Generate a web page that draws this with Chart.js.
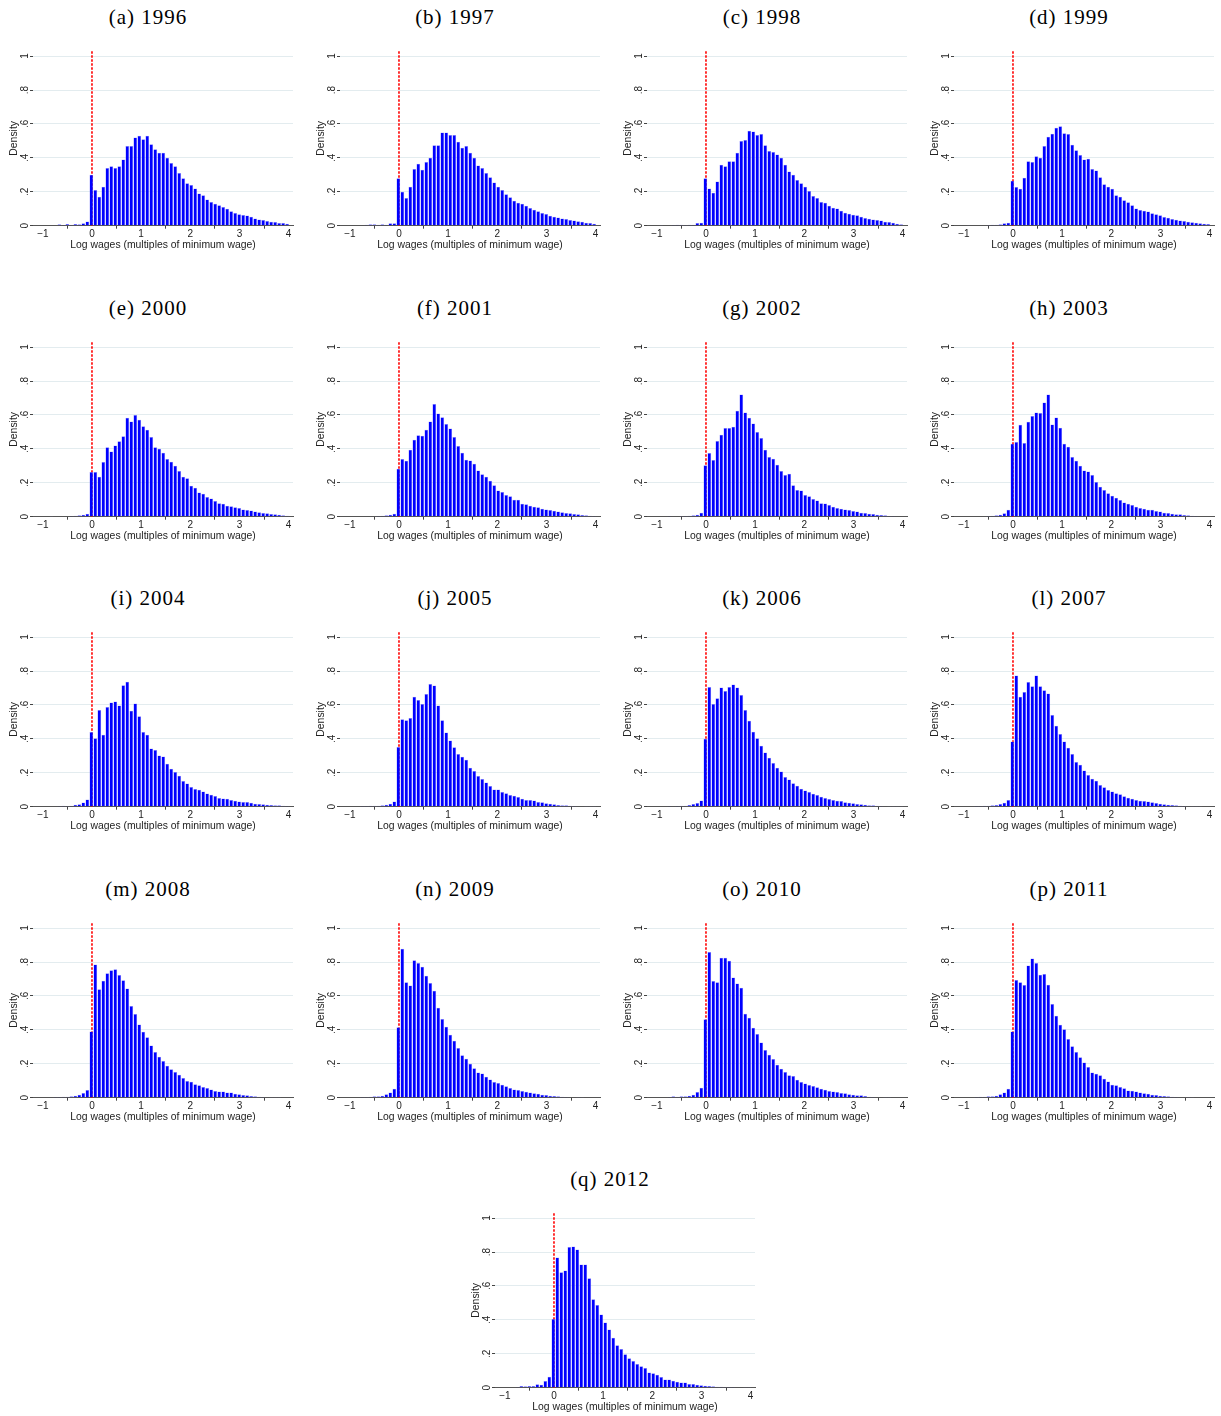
<!DOCTYPE html>
<html><head><meta charset="utf-8">
<script src="https://cdn.jsdelivr.net/npm/chart.js@4"></script>
<style>
html,body{margin:0;padding:0;background:#fff;width:1221px;height:1416px;overflow:hidden;}
.panel{position:absolute;width:305px;height:256px;}
.ttl{position:absolute;top:3px;left:0;width:296px;text-align:center;font-family:"Liberation Serif",serif;font-size:21px;letter-spacing:1px;color:#000;line-height:28px;white-space:nowrap;}
canvas{position:absolute;left:0;top:40px;}
</style></head><body>
<script>
// ---------- data ----------
const years = ["1996","1997","1998","1999","2000","2001","2002","2003","2004","2005","2006","2007","2008","2009","2010","2011","2012"];
const letters = ["a","b","c","d","e","f","g","h","i","j","k","l","m","n","o","p","q"];
const xTicks = [-1,0,1,2,3,4];
const xTickLabels = ["\u22121","0","1","2","3","4"];
const yTicks = [0,0.2,0.4,0.6,0.8,1];
const yTickLabels = ["0",".2",".4",".6",".8","1"];
const xTitle = "Log wages (multiples of minimum wage)";
const yTitle = "Density";
// histogram bins (log wage relative to minimum wage); 12 bins below the minimum-wage bin, 50 from it upward
const binWidth = 0.0813;
const binCenters = Array.from({length:62},(_,i)=> -0.0134 + (i-12)*binWidth);

const y1996 = [0,0,0.002,0.003,0.008,0.004,0.01,0.006,0.01,0.008,0.014,0.025,
 0.30,0.21,0.17,0.23,0.34,0.35,0.34,0.35,0.39,0.47,0.47,0.52,0.53,0.51,0.53,0.48,0.45,0.43,0.43,0.40,0.37,0.35,0.31,0.28,0.25,0.24,0.22,0.19,0.18,0.155,0.14,0.13,0.12,0.11,0.10,0.085,0.075,0.067,0.063,0.06,0.053,0.043,0.037,0.033,0.028,0.024,0.022,0.016,0.016,0.012];
const y1997 = [0,0,0.002,0.002,0.006,0.008,0.008,0.005,0.008,0.006,0.015,0.015,
 0.28,0.20,0.163,0.23,0.335,0.365,0.33,0.375,0.40,0.475,0.475,0.55,0.55,0.535,0.535,0.495,0.46,0.47,0.43,0.40,0.355,0.34,0.31,0.285,0.255,0.23,0.21,0.185,0.167,0.147,0.135,0.13,0.118,0.104,0.094,0.085,0.075,0.069,0.059,0.053,0.049,0.043,0.039,0.033,0.03,0.026,0.024,0.018,0.016,0.012];
const y1998 = [0,0.001,0.002,0.002,0.004,0.006,0.006,0.004,0.005,0.006,0.016,0.018,
 0.28,0.22,0.195,0.26,0.36,0.35,0.38,0.38,0.43,0.50,0.505,0.56,0.555,0.535,0.54,0.475,0.44,0.435,0.42,0.40,0.36,0.32,0.30,0.27,0.25,0.23,0.205,0.175,0.163,0.14,0.135,0.118,0.106,0.102,0.088,0.077,0.071,0.065,0.061,0.053,0.045,0.041,0.037,0.033,0.03,0.024,0.022,0.018,0.012,0.008];
const y1999 = [0,0.001,0.002,0.002,0.003,0.003,0.004,0.005,0.006,0.008,0.014,0.018,
 0.265,0.228,0.218,0.283,0.38,0.375,0.41,0.40,0.47,0.525,0.542,0.578,0.587,0.545,0.54,0.478,0.445,0.417,0.39,0.395,0.335,0.326,0.285,0.244,0.23,0.218,0.18,0.171,0.15,0.138,0.12,0.102,0.092,0.088,0.083,0.073,0.067,0.061,0.051,0.047,0.039,0.035,0.03,0.028,0.024,0.02,0.018,0.014,0.012,0.01];
const y2000 = [0,0,0.001,0.002,0.002,0.003,0.003,0.004,0.006,0.008,0.012,0.018,
 0.263,0.263,0.236,0.322,0.41,0.385,0.42,0.445,0.475,0.583,0.562,0.60,0.572,0.534,0.513,0.47,0.41,0.40,0.377,0.34,0.324,0.30,0.27,0.236,0.226,0.183,0.171,0.143,0.135,0.116,0.108,0.092,0.08,0.077,0.065,0.061,0.055,0.051,0.043,0.039,0.037,0.031,0.026,0.022,0.02,0.016,0.014,0.012,0.008,0.006];
const y2001 = [0,0,0.002,0.003,0.002,0.002,0.003,0.004,0.006,0.008,0.012,0.018,
 0.283,0.34,0.33,0.395,0.454,0.48,0.477,0.513,0.562,0.664,0.609,0.587,0.546,0.52,0.47,0.417,0.377,0.336,0.332,0.312,0.273,0.25,0.236,0.212,0.185,0.155,0.145,0.128,0.12,0.10,0.10,0.077,0.073,0.065,0.059,0.055,0.047,0.043,0.039,0.035,0.031,0.026,0.022,0.02,0.016,0.014,0.01,0.008,0.006,0.004];
const y2002 = [0,0,0.002,0.004,0.002,0.003,0.004,0.004,0.006,0.008,0.012,0.024,
 0.303,0.375,0.334,0.446,0.483,0.523,0.523,0.53,0.625,0.72,0.615,0.583,0.55,0.50,0.464,0.395,0.352,0.342,0.306,0.27,0.246,0.253,0.185,0.157,0.155,0.128,0.12,0.104,0.096,0.08,0.078,0.069,0.059,0.051,0.047,0.043,0.039,0.033,0.03,0.024,0.022,0.018,0.016,0.012,0.01,0.008,0.004,0.004,0.002,0.002];
const y2003 = [0,0,0.002,0.002,0.002,0.003,0.004,0.005,0.008,0.012,0.02,0.041,
 0.43,0.44,0.542,0.435,0.56,0.593,0.615,0.611,0.674,0.72,0.544,0.585,0.525,0.43,0.413,0.352,0.33,0.30,0.273,0.267,0.246,0.204,0.177,0.157,0.138,0.124,0.112,0.098,0.084,0.077,0.069,0.059,0.051,0.047,0.041,0.041,0.033,0.03,0.024,0.022,0.018,0.014,0.014,0.01,0.008,0.006,0.004,0.002,0.002,0.002];
const y2004 = [0,0,0.002,0.003,0.004,0.006,0.004,0.006,0.012,0.014,0.025,0.043,
 0.44,0.404,0.57,0.424,0.588,0.614,0.62,0.596,0.716,0.737,0.565,0.608,0.533,0.44,0.424,0.343,0.335,0.302,0.296,0.253,0.224,0.204,0.182,0.151,0.137,0.116,0.104,0.10,0.09,0.078,0.071,0.063,0.051,0.049,0.047,0.039,0.035,0.031,0.027,0.027,0.024,0.018,0.016,0.014,0.012,0.01,0.008,0.008,0.006,0.004];
const y2005 = [0,0,0.002,0.004,0.004,0.006,0.005,0.006,0.008,0.012,0.018,0.03,
 0.352,0.515,0.51,0.523,0.648,0.629,0.605,0.664,0.723,0.715,0.597,0.509,0.438,0.391,0.35,0.31,0.295,0.277,0.23,0.21,0.181,0.163,0.143,0.122,0.102,0.102,0.086,0.08,0.069,0.065,0.057,0.047,0.039,0.039,0.037,0.028,0.026,0.02,0.018,0.014,0.01,0.008,0.008,0.006,0.004,0.002,0.002,0.001,0.001,0.001];
const y2006 = [0,0,0.002,0.004,0.003,0.004,0.005,0.006,0.01,0.016,0.022,0.037,
 0.40,0.705,0.605,0.64,0.703,0.682,0.705,0.721,0.703,0.658,0.57,0.507,0.442,0.403,0.36,0.32,0.289,0.257,0.23,0.208,0.175,0.161,0.138,0.124,0.106,0.096,0.086,0.077,0.069,0.059,0.051,0.045,0.039,0.035,0.033,0.026,0.024,0.02,0.016,0.014,0.012,0.008,0.008,0.006,0.004,0.002,0.001,0.001,0.001,0.001];
const y2007 = [0,0,0.002,0.004,0.004,0.005,0.006,0.008,0.01,0.016,0.024,0.04,
 0.385,0.774,0.648,0.676,0.735,0.71,0.774,0.71,0.686,0.668,0.54,0.477,0.428,0.385,0.348,0.31,0.263,0.248,0.214,0.187,0.165,0.153,0.128,0.114,0.098,0.09,0.079,0.073,0.061,0.053,0.047,0.039,0.035,0.033,0.031,0.026,0.022,0.018,0.014,0.012,0.01,0.008,0.006,0.004,0.002,0.001,0.001,0.001,0,0];
const y2008 = [0,0,0.003,0.004,0.004,0.006,0.006,0.008,0.012,0.018,0.028,0.045,
 0.39,0.786,0.64,0.69,0.733,0.752,0.758,0.723,0.692,0.644,0.54,0.493,0.432,0.389,0.356,0.308,0.269,0.242,0.216,0.189,0.167,0.151,0.136,0.116,0.098,0.094,0.08,0.073,0.063,0.057,0.049,0.039,0.037,0.037,0.031,0.03,0.024,0.02,0.016,0.014,0.01,0.008,0.006,0.004,0.002,0.001,0.001,0.001,0,0];
const y2009 = [0,0,0.002,0.004,0.004,0.006,0.008,0.008,0.012,0.02,0.03,0.053,
 0.415,0.878,0.68,0.662,0.81,0.794,0.772,0.719,0.676,0.631,0.53,0.464,0.418,0.371,0.336,0.293,0.25,0.23,0.20,0.173,0.149,0.143,0.124,0.108,0.092,0.086,0.077,0.067,0.057,0.049,0.045,0.039,0.035,0.031,0.026,0.024,0.018,0.016,0.012,0.01,0.008,0.006,0.004,0.002,0.002,0.001,0.001,0,0,0];
const y2010 = [0,0.002,0.002,0.004,0.008,0.006,0.008,0.008,0.012,0.018,0.033,0.059,
 0.462,0.859,0.688,0.68,0.825,0.825,0.807,0.709,0.674,0.648,0.495,0.472,0.413,0.375,0.326,0.281,0.253,0.228,0.194,0.171,0.151,0.132,0.128,0.106,0.092,0.084,0.075,0.069,0.061,0.053,0.047,0.039,0.037,0.033,0.028,0.026,0.02,0.018,0.014,0.014,0.01,0.006,0.004,0.002,0.002,0.001,0.001,0,0,0];
const y2011 = [0,0.002,0.002,0.004,0.006,0.006,0.008,0.008,0.012,0.02,0.03,0.053,
 0.39,0.694,0.68,0.664,0.78,0.82,0.794,0.725,0.729,0.666,0.552,0.483,0.43,0.403,0.346,0.303,0.269,0.238,0.208,0.181,0.149,0.141,0.132,0.112,0.096,0.077,0.073,0.063,0.055,0.043,0.041,0.037,0.031,0.026,0.024,0.018,0.016,0.012,0.01,0.008,0.006,0.004,0.002,0.002,0.001,0.001,0,0,0,0];
const y2012 = [0,0,0.002,0.004,0.01,0.008,0.01,0.01,0.02,0.018,0.04,0.065,
 0.405,0.768,0.681,0.691,0.829,0.833,0.815,0.726,0.726,0.646,0.522,0.488,0.431,0.384,0.343,0.295,0.25,0.228,0.197,0.173,0.157,0.14,0.126,0.116,0.089,0.085,0.077,0.063,0.049,0.049,0.041,0.035,0.031,0.031,0.022,0.022,0.018,0.014,0.012,0.01,0.008,0.006,0.006,0.004,0.004,0.004,0.002,0.002,0.001,0.001];
const minWageLine = [0, 1.03];

const seriesList = [y1996,y1997,y1998,y1999,y2000,y2001,y2002,y2003,y2004,y2005,y2006,y2007,y2008,y2009,y2010,y2011,y2012];

// ---------- layout ----------
const colLeft = [0,307,614,921];
const rowStep = 290.6;
const tickFont = {family:"'Liberation Sans', Arial, sans-serif", size:10};
const titleFont = {family:"'Liberation Sans', Arial, sans-serif", size:10.4};

years.forEach((yr, idx) => {
  const row = Math.floor(idx/4), col = idx%4;
  const left = idx === 16 ? 462 : colLeft[col];
  const top = row*rowStep;
  const div = document.createElement('div');
  div.className = 'panel';
  div.style.left = left + 'px';
  div.style.top = top + 'px';
  const t = document.createElement('div');
  t.className = 'ttl';
  t.textContent = '(' + letters[idx] + ') ' + yr;
  div.appendChild(t);
  const cv = document.createElement('canvas');
  cv.width = 305; cv.height = 213;
  cv.style.width = '305px'; cv.style.height = '213px';
  div.appendChild(cv);
  document.body.appendChild(div);

  const vals = seriesList[idx];
  new Chart(cv, {
    type: 'bar',
    data: {
      datasets: [
        {
          type: 'bar',
          data: binCenters.map((x,i) => ({x: x, y: vals[i]})),
          backgroundColor: '#0000ff',
          borderColor: '#9c9cff',
          borderWidth: 0.5,
          barPercentage: 0.93,
          categoryPercentage: 1,
          order: 1
        },
        {
          type: 'line',
          data: minWageLine.map(v => ({x: 0, y: v})),
          borderColor: '#ff0000',
          borderWidth: 1.6,
          borderDash: [2.5, 1.5],
          pointRadius: 0,
          fill: false,
          order: 2
        }
      ]
    },
    options: {
      responsive: false,
      animation: false,
      events: [],
      layout: {padding: {top: 11, right: 12, left: 0, bottom: 0}},
      plugins: {legend: {display: false}, tooltip: {enabled: false}},
      scales: {
        x: {
          type: 'linear', min: -1.2, max: 4.09, offset: false,
          afterBuildTicks: s => { s.ticks = xTicks.map(v => ({value: v})); },
          afterFit: s => { s.height = 27.3; },
          grid: {display: true, drawOnChartArea: false, drawTicks: true, tickLength: 3, color: '#444', tickColor: '#444'},
          border: {display: true, color: '#555', width: 1},
          ticks: {padding: 0, color: '#222', font: tickFont, maxRotation: 0, autoSkip: false,
                  callback: v => xTickLabels[xTicks.indexOf(v)]},
          title: {display: true, text: xTitle, color: '#222', font: titleFont, padding: {top: 0, bottom: 2}}
        },
        y: {
          min: 0, max: 1.03,
          afterBuildTicks: s => { s.ticks = yTicks.map(v => ({value: v})); },
          afterFit: s => { s.width = 33; },
          grid: {color: '#e3ecef', lineWidth: 1, drawTicks: true, tickLength: 3, tickColor: '#444'},
          border: {display: false},
          ticks: {minRotation: 90, maxRotation: 90, crossAlign: 'center', padding: 1, color: '#222', font: tickFont, autoSkip: false,
                  callback: v => yTickLabels[yTicks.indexOf(v)]},
          title: {display: true, text: yTitle, color: '#222', font: titleFont, padding: {top: 8, bottom: 0}}
        }
      }
    }
  });
});
</script>
</body></html>
